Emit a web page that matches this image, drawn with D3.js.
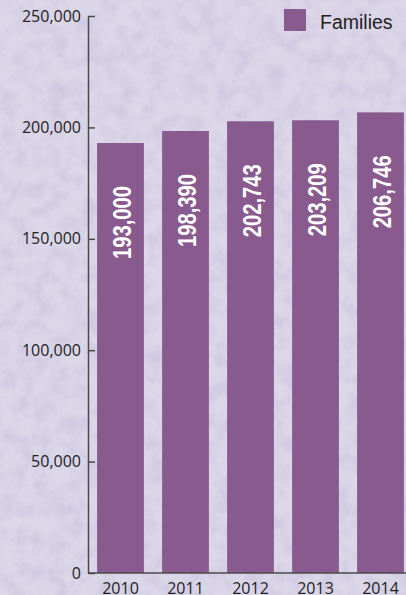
<!DOCTYPE html>
<html>
<head>
<meta charset="utf-8">
<script src="https://cdn.jsdelivr.net/npm/d3@7"></script>
<style>
  body { margin: 0; overflow: hidden; }
  .axis text { font-family: "Open Sans", "Noto Sans", sans-serif; font-size: 16px; fill: #222; }
  .axis path, .axis line { stroke: #4a4a4a; stroke-width: 1.5; }
  .valueLabel { font-family: "Liberation Sans", Arial, sans-serif; font-weight: bold; font-size: 25px; fill: #fff; }
  .legendText { font-family: "Liberation Sans", Arial, sans-serif; font-size: 19.5px; fill: #222; }
</style>
</head>
<body>
<div id="chart"></div>
<script>
var years = ["2010", "2011", "2012", "2013", "2014"];
var families = [193000, 198390, 202743, 203209, 206746];
var yTicks = [0, 50000, 100000, 150000, 200000, 250000];
var seriesName = "Families";

var width = 406, height = 595;
var barColor = "#885a8e";

var svg = d3.select("#chart").append("svg")
    .attr("width", width)
    .attr("height", height);

// paper-like lavender background
var defs = svg.append("defs");
var f = defs.append("filter").attr("id", "paper")
    .attr("x", 0).attr("y", 0).attr("width", "100%").attr("height", "100%");
f.append("feTurbulence").attr("type", "fractalNoise")
    .attr("baseFrequency", 0.06).attr("numOctaves", 4).attr("seed", 3);
f.append("feColorMatrix").attr("type", "matrix")
    .attr("values", "0 0 0 0 0.5  0 0 0 0 0.45  0 0 0 0 0.68  0 0 0 -1.3 0.85");
svg.append("rect").attr("width", width).attr("height", height).attr("fill", "#dcd7e8");
svg.append("rect").attr("width", width).attr("height", height).attr("filter", "url(#paper)").attr("opacity", 0.6);

var x0 = 88, yBase = 573;

var x = d3.scaleBand()
    .domain(years)
    .range([x0, x0 + 65 * years.length])
    .paddingInner(0.28)
    .paddingOuter(0.14);

var y = d3.scaleLinear()
    .domain([0, 250000])
    .range([yBase, 16]);

// bars
var bar = svg.selectAll(".bar")
    .data(families)
    .enter().append("g")
    .attr("class", "bar");

bar.append("rect")
    .attr("x", function(d, i) { return x(years[i]); })
    .attr("y", function(d) { return y(d); })
    .attr("width", x.bandwidth())
    .attr("height", function(d) { return yBase - y(d); })
    .attr("fill", barColor);

// condensed white value labels, squeezed to the narrow look of the original
bar.append("text")
    .attr("class", "valueLabel")
    .attr("text-anchor", "end")
    .attr("dy", "0.36em")
    .attr("textLength", 73)
    .attr("lengthAdjust", "spacingAndGlyphs")
    .attr("transform", function(d, i) {
        return "translate(" + (x(years[i]) + x.bandwidth() / 2 + 1.5) + "," + (y(d) + 43) + ") rotate(-90)";
    })
    .text(function(d) { return d3.format(",")(d); });

// axes
var yAxis = d3.axisLeft(y)
    .tickValues(yTicks)
    .tickFormat(d3.format(","))
    .tickSizeInner(-7)
    .tickSizeOuter(0)
    .tickPadding(7);

svg.append("g")
    .attr("class", "axis")
    .attr("transform", "translate(" + x0 + ",0)")
    .call(yAxis);

var xAxis = d3.axisBottom(x)
    .tickSize(0)
    .tickPadding(9.5);

var gx = svg.append("g")
    .attr("class", "axis")
    .attr("transform", "translate(0," + yBase + ")")
    .call(xAxis);
gx.select(".domain").attr("d", "M" + x0 + ",0H" + width);

// legend
var legend = svg.append("g").attr("transform", "translate(284,9)");
legend.append("rect").attr("width", 22).attr("height", 22).attr("fill", barColor);
legend.append("text").attr("class", "legendText").attr("x", 36).attr("y", 20).text(seriesName);
</script>
</body>
</html>
